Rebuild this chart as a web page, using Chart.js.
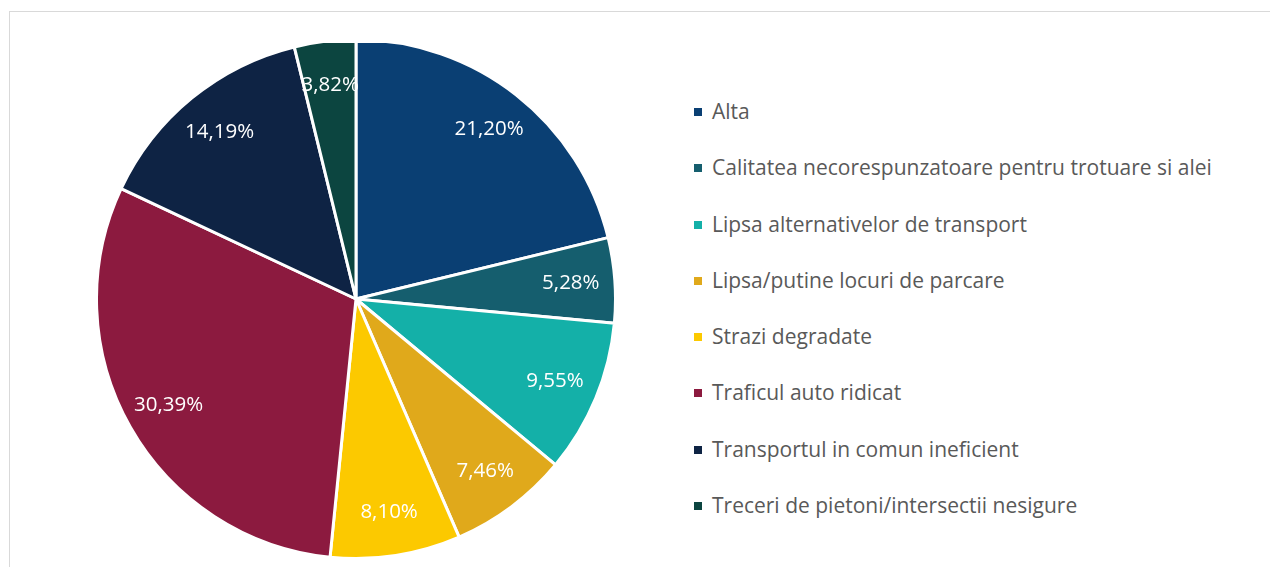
<!DOCTYPE html>
<html>
<head>
<meta charset="utf-8">
<script src="https://cdn.jsdelivr.net/npm/chart.js@4.4.0/dist/chart.umd.min.js"></script>
<style>
  body { margin: 0; background: #fff; width: 1270px; height: 567px; overflow: hidden; position: relative; font-family: "Open Sans", sans-serif; }
  .frame { position: absolute; left: 9px; top: 11px; width: 1300px; height: 600px; border-top: 1px solid #d9d9d9; border-left: 1px solid #d9d9d9; }
  .pie-box { position: absolute; left: 95px; top: 43px; width: 520px; height: 514px; overflow: hidden; }
  .pie-box canvas { position: absolute; left: 0; top: -5px; }
  #legend { position: absolute; left: 694px; top: 83px; margin: 0; padding: 0; list-style: none; }
  #legend li { height: 56.3px; line-height: 56.3px; font-size: 21px; color: #595959; white-space: nowrap; }
  #legend span { display: inline-block; width: 8px; height: 8px; margin-right: 10px; vertical-align: 3px; }
</style>
</head>
<body>
<div class="frame"></div>
<div class="pie-box"><canvas id="pie" width="522" height="522"></canvas></div>
<ul id="legend"></ul>
<script>
const labels = [
  'Alta',
  'Calitatea necorespunzatoare pentru trotuare si alei',
  'Lipsa alternativelor de transport',
  'Lipsa/putine locuri de parcare',
  'Strazi degradate',
  'Traficul auto ridicat',
  'Transportul in comun ineficient',
  'Treceri de pietoni/intersectii nesigure'
];
const shares = [21.20, 5.28, 9.55, 7.46, 8.10, 30.39, 14.19, 3.82];
const colors = ['#0a3f73', '#155e6e', '#14b0a8', '#e0a91b', '#fcc900', '#8c1a3f', '#0e2344', '#0c4540'];

// percent text inside each slice, placed along the slice's middle angle
const sliceLabels = {
  id: 'sliceLabels',
  afterDatasetsDraw(chart) {
    const ctx = chart.ctx;
    const meta = chart.getDatasetMeta(0);
    ctx.save();
    ctx.font = '20.5px "Open Sans", sans-serif';
    ctx.fillStyle = '#ffffff';
    ctx.textAlign = 'center';
    ctx.textBaseline = 'middle';
    meta.data.forEach((arc, i) => {
      const { x, y, startAngle, endAngle, outerRadius } = arc.getProps(['x', 'y', 'startAngle', 'endAngle', 'outerRadius'], true);
      const mid = (startAngle + endAngle) / 2;
      const r = outerRadius * 0.83;
      const text = shares[i].toFixed(2).replace('.', ',') + '%';
      ctx.fillText(text, x + Math.cos(mid) * r, y + Math.sin(mid) * r);
    });
    ctx.restore();
  }
};

const chart = new Chart(document.getElementById('pie'), {
  type: 'pie',
  data: {
    labels: labels,
    datasets: [{
      data: shares,
      backgroundColor: colors,
      borderColor: '#ffffff',
      borderWidth: 3
    }]
  },
  options: {
    responsive: false,
    animation: false,
    layout: { padding: 0 },
    plugins: {
      legend: { display: false },
      tooltip: { enabled: false }
    }
  },
  plugins: [sliceLabels]
});

// legend list next to the pie
const legend = document.getElementById('legend');
labels.forEach((name, i) => {
  const li = document.createElement('li');
  const box = document.createElement('span');
  box.style.background = colors[i];
  li.appendChild(box);
  li.appendChild(document.createTextNode(name));
  legend.appendChild(li);
});
</script>
</body>
</html>
